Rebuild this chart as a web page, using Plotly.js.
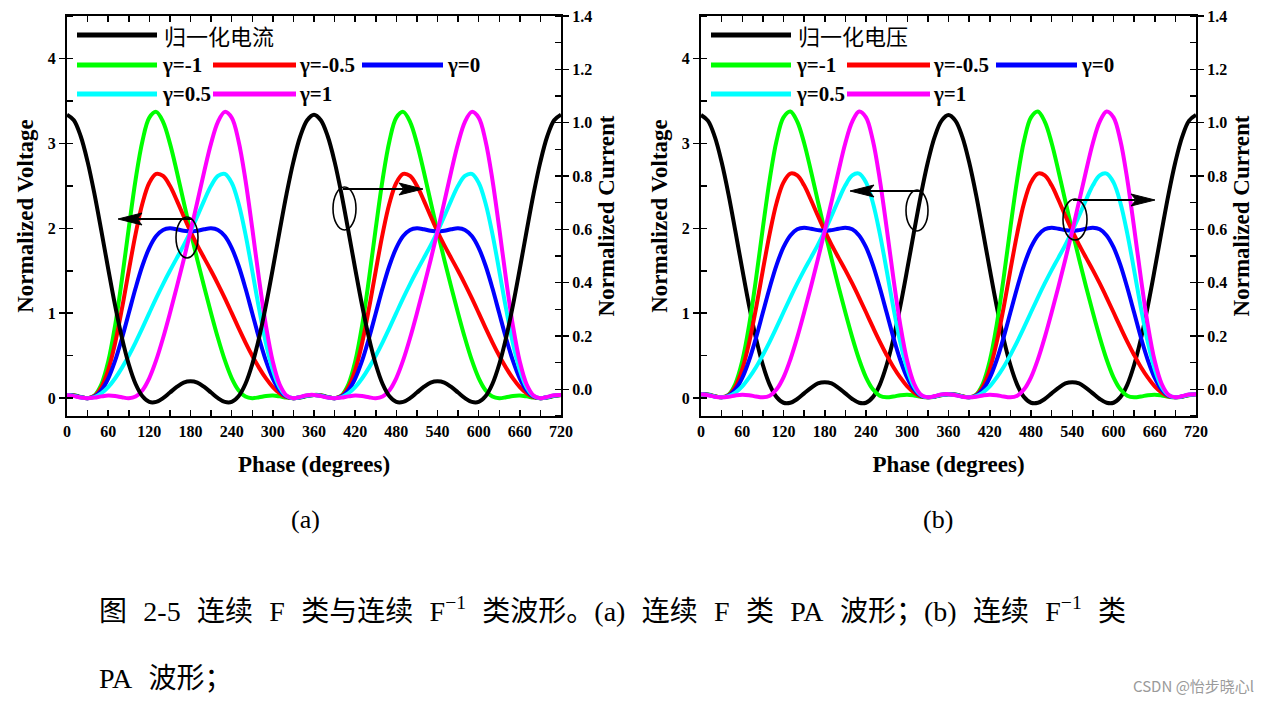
<!DOCTYPE html>
<html><head><meta charset="utf-8">
<script src="https://cdn.plot.ly/plotly-3.0.1.min.js"></script>
<style>html,body{margin:0;padding:0;background:#fff;} #chart{width:1270px;height:703px;}</style>
</head><body><div id="chart"></div>
<script>
// ---------- data ----------
const phase = [0,10,20,30,40,50,60,70,80,90,100,110,120,130,140,150,160,170,180,190,200,210,220,230,240,250,260,270,280,290,300,310,320,330,340,350,360,
370,380,390,400,410,420,430,440,450,460,470,480,490,500,510,520,530,540,550,560,570,580,590,600,610,620,630,640,650,660,670,680,690,700,710,720];

const gammaLabels = ['γ=-1','γ=-0.5','γ=0','γ=0.5','γ=1'];
const gammaColors = ['#00ff00','#ff0000','#0000ff','#00ffff','#ff00ff'];
const blackLabels = ['归一化电流','归一化电压'];
const panelLabels = ['(a)','(b)'];

// Panel (a): normalized current (right axis)
const curA = [1.030,1.009,0.949,0.854,0.733,0.595,0.453,0.316,0.194,0.094,0.020,-0.026,-0.047,-0.047,-0.033,-0.012,0.009,0.025,0.030,0.025,0.009,-0.012,-0.033,-0.047,-0.047,-0.026,0.020,0.094,0.194,0.316,0.453,0.595,0.733,0.854,0.949,1.009,1.030,
1.009,0.949,0.854,0.733,0.595,0.453,0.316,0.194,0.094,0.020,-0.026,-0.047,-0.047,-0.033,-0.012,0.009,0.025,0.030,0.025,0.009,-0.012,-0.033,-0.047,-0.047,-0.026,0.020,0.094,0.194,0.316,0.453,0.595,0.733,0.854,0.949,1.009,1.030];
// Panel (a): normalized voltages (left axis)
const volA_gm1 = [0.038,0.035,0.015,0,0.032,0.161,0.429,0.850,1.396,2.000,2.574,3.029,3.303,3.371,3.254,3.000,2.669,2.313,1.962,1.628,1.309,1.000,0.708,0.447,0.237,0.094,0.020,0,0.011,0.026,0.031,0.021,0.007,0,0.007,0.024,0.038,
0.035,0.015,0,0.032,0.161,0.429,0.850,1.396,2.000,2.574,3.029,3.303,3.371,3.254,3.000,2.669,2.313,1.962,1.628,1.309,1.000,0.708,0.447,0.237,0.094,0.020,0,0.011,0.026,0.031,0.021,0.007,0,0.007,0.024,0.038];
const volA_gm05 = [0.038,0.032,0.013,0,0.026,0.126,0.330,0.644,1.050,1.500,1.935,2.295,2.536,2.640,2.617,2.500,2.329,2.142,1.962,1.799,1.649,1.500,1.344,1.178,1.004,0.828,0.658,0.500,0.357,0.232,0.130,0.056,0.013,0,0.009,0.027,0.038,
0.032,0.013,0,0.026,0.126,0.330,0.644,1.050,1.500,1.935,2.295,2.536,2.640,2.617,2.500,2.329,2.142,1.962,1.799,1.649,1.500,1.344,1.178,1.004,0.828,0.658,0.500,0.357,0.232,0.130,0.056,0.013,0,0.009,0.027,0.038];
const volA_g0 = [0.038,0.030,0.011,0,0.019,0.091,0.230,0.438,0.703,1.000,1.297,1.562,1.770,1.909,1.981,2.000,1.989,1.971,1.962,1.971,1.989,2.000,1.981,1.909,1.770,1.562,1.297,1.000,0.703,0.438,0.230,0.091,0.019,0,0.011,0.030,0.038,
0.030,0.011,0,0.019,0.091,0.230,0.438,0.703,1.000,1.297,1.562,1.770,1.909,1.981,2.000,1.989,1.971,1.962,1.971,1.989,2.000,1.981,1.909,1.770,1.562,1.297,1.000,0.703,0.438,0.230,0.091,0.019,0,0.011,0.030,0.038];
const volA_g05 = [0.038,0.027,0.009,0,0.013,0.056,0.130,0.232,0.357,0.500,0.658,0.828,1.004,1.178,1.344,1.500,1.649,1.799,1.962,2.142,2.329,2.500,2.617,2.640,2.536,2.295,1.935,1.500,1.050,0.644,0.330,0.126,0.026,0,0.013,0.032,0.038,
0.027,0.009,0,0.013,0.056,0.130,0.232,0.357,0.500,0.658,0.828,1.004,1.178,1.344,1.500,1.649,1.799,1.962,2.142,2.329,2.500,2.617,2.640,2.536,2.295,1.935,1.500,1.050,0.644,0.330,0.126,0.026,0,0.013,0.032,0.038];
const volA_g1 = [0.038,0.024,0.007,0,0.007,0.021,0.031,0.026,0.011,0,0.020,0.094,0.237,0.447,0.708,1.000,1.309,1.628,1.962,2.313,2.669,3.000,3.254,3.371,3.303,3.029,2.574,2.000,1.396,0.850,0.429,0.161,0.032,0,0.015,0.035,0.038,
0.024,0.007,0,0.007,0.021,0.031,0.026,0.011,0,0.020,0.094,0.237,0.447,0.708,1.000,1.309,1.628,1.962,2.313,2.669,3.000,3.254,3.371,3.303,3.029,2.574,2.000,1.396,0.850,0.429,0.161,0.032,0,0.015,0.035,0.038];

// Panel (b): normalized voltage (left axis)
const volB = [3.334,3.268,3.080,2.781,2.400,1.966,1.519,1.088,0.704,0.390,0.157,0.012,-0.054,-0.054,-0.010,0.056,0.122,0.173,0.188,0.173,0.122,0.056,-0.010,-0.054,-0.054,0.012,0.157,0.390,0.704,1.088,1.519,1.966,2.400,2.781,3.080,3.268,3.334,
3.268,3.080,2.781,2.400,1.966,1.519,1.088,0.704,0.390,0.157,0.012,-0.054,-0.054,-0.010,0.056,0.122,0.173,0.188,0.173,0.122,0.056,-0.010,-0.054,-0.054,0.012,0.157,0.390,0.704,1.088,1.519,1.966,2.400,2.781,3.080,3.268,3.334];
// Panel (b): normalized currents (right axis)
const curB_gm1 = [-0.018,-0.019,-0.025,-0.030,-0.020,0.021,0.106,0.240,0.414,0.606,0.788,0.933,1.020,1.042,1.004,0.924,0.818,0.705,0.594,0.488,0.386,0.288,0.195,0.112,0.045,0.000,-0.024,-0.030,-0.027,-0.022,-0.020,-0.023,-0.028,-0.030,-0.028,-0.022,-0.018,
-0.019,-0.025,-0.030,-0.020,0.021,0.106,0.240,0.414,0.606,0.788,0.933,1.020,1.042,1.004,0.924,0.818,0.705,0.594,0.488,0.386,0.288,0.195,0.112,0.045,0.000,-0.024,-0.030,-0.027,-0.022,-0.020,-0.023,-0.028,-0.030,-0.028,-0.022,-0.018];
const curB_gm05 = [-0.018,-0.020,-0.026,-0.030,-0.022,0.010,0.075,0.175,0.304,0.447,0.585,0.700,0.776,0.809,0.802,0.765,0.710,0.651,0.594,0.542,0.494,0.447,0.397,0.344,0.289,0.233,0.179,0.129,0.083,0.044,0.011,-0.012,-0.026,-0.030,-0.027,-0.021,-0.018,
-0.020,-0.026,-0.030,-0.022,0.010,0.075,0.175,0.304,0.447,0.585,0.700,0.776,0.809,0.802,0.765,0.710,0.651,0.594,0.542,0.494,0.447,0.397,0.344,0.289,0.233,0.179,0.129,0.083,0.044,0.011,-0.012,-0.026,-0.030,-0.027,-0.021,-0.018];
const curB_g0 = [-0.018,-0.020,-0.027,-0.030,-0.024,-0.001,0.043,0.109,0.193,0.288,0.382,0.467,0.533,0.577,0.600,0.606,0.602,0.597,0.594,0.597,0.602,0.606,0.600,0.577,0.533,0.467,0.382,0.288,0.193,0.109,0.043,-0.001,-0.024,-0.030,-0.027,-0.020,-0.018,
-0.020,-0.027,-0.030,-0.024,-0.001,0.043,0.109,0.193,0.288,0.382,0.467,0.533,0.577,0.600,0.606,0.602,0.597,0.594,0.597,0.602,0.606,0.600,0.577,0.533,0.467,0.382,0.288,0.193,0.109,0.043,-0.001,-0.024,-0.030,-0.027,-0.020,-0.018];
const curB_g05 = [-0.018,-0.021,-0.027,-0.030,-0.026,-0.012,0.011,0.044,0.083,0.129,0.179,0.233,0.289,0.344,0.397,0.447,0.494,0.542,0.594,0.651,0.710,0.765,0.802,0.809,0.776,0.700,0.585,0.447,0.304,0.175,0.075,0.010,-0.022,-0.030,-0.026,-0.020,-0.018,
-0.021,-0.027,-0.030,-0.026,-0.012,0.011,0.044,0.083,0.129,0.179,0.233,0.289,0.344,0.397,0.447,0.494,0.542,0.594,0.651,0.710,0.765,0.802,0.809,0.776,0.700,0.585,0.447,0.304,0.175,0.075,0.010,-0.022,-0.030,-0.026,-0.020,-0.018];
const curB_g1 = [-0.018,-0.022,-0.028,-0.030,-0.028,-0.023,-0.020,-0.022,-0.027,-0.030,-0.024,0.000,0.045,0.112,0.195,0.288,0.386,0.488,0.594,0.705,0.818,0.924,1.004,1.042,1.020,0.933,0.788,0.606,0.414,0.240,0.106,0.021,-0.020,-0.030,-0.025,-0.019,-0.018,
-0.022,-0.028,-0.030,-0.028,-0.023,-0.020,-0.022,-0.027,-0.030,-0.024,0.000,0.045,0.112,0.195,0.288,0.386,0.488,0.594,0.705,0.818,0.924,1.004,1.042,1.020,0.933,0.788,0.606,0.414,0.240,0.106,0.021,-0.020,-0.030,-0.025,-0.019,-0.018];

// caption (justified spacing imitated with wider spaces)
const SP = '\u2002\u200A';
const captionLine1 = '图' + SP + '2-5' + SP + '连续' + SP + 'F' + SP + '类与连续' + SP + 'F<sup>−1</sup>' + SP + '类波形。(a)' + SP + '连续' + SP + 'F' + SP + '类' + SP + 'PA' + SP + '波形；(b)' + SP + '连续' + SP + 'F<sup>−1</sup>' + SP + '类';
const captionLine2 = 'PA' + SP + '波形；';
const watermark = 'CSDN @怡步晓心l';

// ---------- rendering ----------
const W = 1270, H = 703;
const X = p => p / W;
const Y = p => 1 - p / H;
const serif = '"Liberation Serif", "Times New Roman", serif';
const cjk = '"Noto Sans CJK SC", sans-serif';
const tickFont = {family: serif, size: 16, color: '#000', weight: 'bold'};
const titleFont = {family: serif, size: 23, color: '#000', weight: 'bold'};

const volA = [volA_gm1, volA_gm05, volA_g0, volA_g05, volA_g1];
const curB = [curB_gm1, curB_gm05, curB_g0, curB_g05, curB_g1];

const traces = [];
const lw = 4;
volA.forEach((s, i) => traces.push({x: phase, y: s, xaxis: 'x', yaxis: 'y', type: 'scatter', mode: 'lines',
  name: gammaLabels[i], line: {color: gammaColors[i], width: lw, shape: 'spline', smoothing: 1}}));
traces.push({x: phase, y: curA, xaxis: 'x', yaxis: 'y2', type: 'scatter', mode: 'lines', name: blackLabels[0],
  line: {color: '#000', width: lw, shape: 'spline', smoothing: 1}});
traces.push({x: phase, y: volB, xaxis: 'x2', yaxis: 'y3', type: 'scatter', mode: 'lines', name: blackLabels[1],
  line: {color: '#000', width: lw, shape: 'spline', smoothing: 1}});
curB.forEach((s, i) => traces.push({x: phase, y: s, xaxis: 'x2', yaxis: 'y4', type: 'scatter', mode: 'lines',
  name: gammaLabels[i], line: {color: gammaColors[i], width: lw, shape: 'spline', smoothing: 1}}));

const yDom = [Y(416), Y(16)];
function xAxis(dom, anchor) {
  return {domain: dom, anchor: anchor, range: [0, 720], tick0: 0, dtick: 60,
    ticks: 'inside', ticklen: 6, tickwidth: 1.5, tickcolor: '#000',
    showline: true, linewidth: 2, linecolor: '#000', mirror: 'ticks',
    showgrid: false, zeroline: false, fixedrange: true,
    minor: {tick0: 0, dtick: 30, ticks: 'inside', ticklen: 6, tickwidth: 1.5, tickcolor: '#000', showgrid: false},
    tickfont: tickFont, title: {text: 'Phase (degrees)', font: titleFont, standoff: 17}};
}
function yLeft(anchor) {
  return {domain: yDom, anchor: anchor, range: [-0.21, 4.5], tick0: 0, dtick: 1,
    ticks: 'outside', ticklen: 6, tickwidth: 1.5, tickcolor: '#000',
    showline: true, linewidth: 2, linecolor: '#000', showgrid: false, zeroline: false, fixedrange: true,
    minor: {tick0: 0, dtick: 0.5, ticks: 'inside', ticklen: 6, tickwidth: 1.5, tickcolor: '#000', showgrid: false},
    tickfont: tickFont, title: {text: 'Normalized Voltage', font: titleFont, standoff: 8}};
}
function yRight(anchor, over) {
  return {domain: yDom, anchor: anchor, overlaying: over, side: 'right', range: [-0.1, 1.4], tick0: 0, dtick: 0.2,
    tickformat: '.1f', ticks: 'outside', ticklen: 6, tickwidth: 1.5, tickcolor: '#000',
    showline: true, linewidth: 2, linecolor: '#000', showgrid: false, zeroline: false, fixedrange: true,
    minor: {tick0: 0, dtick: 0.1, ticks: 'inside', ticklen: 6, tickwidth: 1.5, tickcolor: '#000', showgrid: false},
    tickfont: tickFont, title: {text: 'Normalized Current', font: titleFont, standoff: 7}};
}

const shapes = [];
const annotations = [];

// legends (drawn per panel)
function addLegend(L, blackLabel) {
  const rows = [35, 65, 94];
  const lineStart = [10, 146, 295], lineEnd = [90, 229, 376], textStart = [93, 230, 378];
  const entries = [
    {c: '#000', t: blackLabel, r: 0, k: 0, cjk: true},
    {c: gammaColors[0], t: gammaLabels[0], r: 1, k: 0},
    {c: gammaColors[1], t: gammaLabels[1], r: 1, k: 1},
    {c: gammaColors[2], t: gammaLabels[2], r: 1, k: 2},
    {c: gammaColors[3], t: gammaLabels[3], r: 2, k: 0},
    {c: gammaColors[4], t: gammaLabels[4], r: 2, k: 1}
  ];
  entries.forEach(e => {
    shapes.push({type: 'line', xref: 'paper', yref: 'paper', x0: X(L + lineStart[e.k]), x1: X(L + lineEnd[e.k]),
      y0: Y(rows[e.r]), y1: Y(rows[e.r]), line: {color: e.c, width: 5}});
    annotations.push({xref: 'paper', yref: 'paper', x: X(L + (e.cjk ? textStart[0] + 2 : textStart[e.k])), y: Y(rows[e.r]),
      xanchor: 'left', yanchor: 'middle', showarrow: false, text: e.t,
      font: e.cjk ? {family: cjk, size: 22, color: '#000'} : {family: serif, size: 21, color: '#000', weight: 'bold'}});
  });
}
addLegend(67, blackLabels[0]);
addLegend(701, blackLabels[1]);

// arrows + ellipses
function addArrow(x0, x1, y, dir) {
  const head = 24, half = 6;
  const base = x1 - dir * head;
  shapes.push({type: 'line', xref: 'paper', yref: 'paper', x0: X(x0), x1: X(base + dir * 4), y0: Y(y), y1: Y(y),
    line: {color: '#000', width: 2}});
  shapes.push({type: 'path', xref: 'paper', yref: 'paper',
    path: `M${X(x1)},${Y(y)} L${X(base)},${Y(y - half)} L${X(base + dir * 5)},${Y(y)} L${X(base)},${Y(y + half)} Z`,
    fillcolor: '#000', line: {color: '#000', width: 1}});
}
function addEllipse(x0, y0, x1, y1) {
  shapes.push({type: 'circle', xref: 'paper', yref: 'paper', x0: X(x0), x1: X(x1), y0: Y(y1), y1: Y(y0),
    line: {color: '#000', width: 1.6}});
}
addEllipse(176, 217, 198, 258); addArrow(192, 118, 219, -1);
addEllipse(333, 187, 356, 230); addArrow(343, 423, 189, 1);
addEllipse(906, 190, 928, 231); addArrow(920, 850, 191, -1);
addEllipse(1063, 199, 1087, 240); addArrow(1073, 1155, 200, 1);

// panel labels
annotations.push({xref: 'paper', yref: 'paper', x: X(305), y: Y(519), xanchor: 'center', yanchor: 'middle', showarrow: false,
  text: panelLabels[0], font: {family: serif, size: 26, color: '#000'}});
annotations.push({xref: 'paper', yref: 'paper', x: X(938), y: Y(519), xanchor: 'center', yanchor: 'middle', showarrow: false,
  text: panelLabels[1], font: {family: serif, size: 26, color: '#000'}});

// caption
const capFont = {family: '"Liberation Serif", "Noto Sans CJK SC"', size: 28, color: '#000'};
annotations.push({xref: 'paper', yref: 'paper', x: X(97), y: Y(609), xanchor: 'left', yanchor: 'middle', showarrow: false,
  text: captionLine1, font: capFont});
annotations.push({xref: 'paper', yref: 'paper', x: X(97), y: Y(678), xanchor: 'left', yanchor: 'middle', showarrow: false,
  text: captionLine2, font: capFont});
annotations.push({xref: 'paper', yref: 'paper', x: X(1256), y: Y(685), xanchor: 'right', yanchor: 'middle', showarrow: false,
  text: watermark, font: {family: '"Noto Sans CJK SC", sans-serif', size: 15, color: '#9a9a9a'}});

const layout = {
  width: W, height: H, margin: {l: 0, r: 0, t: 0, b: 0},
  paper_bgcolor: '#fff', plot_bgcolor: '#fff', showlegend: false, hovermode: false,
  xaxis: xAxis([X(67), X(561)], 'y'),
  yaxis: yLeft('x'),
  yaxis2: yRight('x', 'y'),
  xaxis2: xAxis([X(701), X(1196)], 'y3'),
  yaxis3: yLeft('x2'),
  yaxis4: yRight('x2', 'y3'),
  shapes: shapes, annotations: annotations
};

Plotly.newPlot('chart', traces, layout, {staticPlot: true, displayModeBar: false});
</script>
</body></html>
